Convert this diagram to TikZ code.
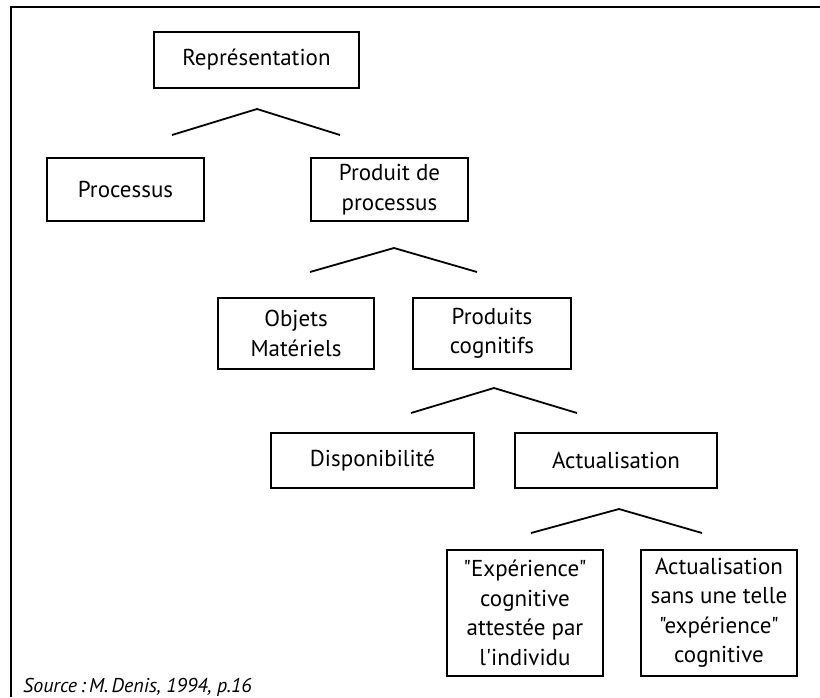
\documentclass[tikz,border=0pt]{standalone}
\usepackage{fontspec}
\setmainfont{PT Sans}[Ligatures=TeXOff]
\begin{document}
\begin{tikzpicture}[x=1pt,y=-1pt,
  box/.style={draw=black,line width=1.6pt,rectangle,inner sep=0pt,align=center,
    font=\fontsize{23}{29.5}\selectfont},
  conn/.style={draw=black,line width=1.8pt},
  frameline/.style={draw=black,line width=2.6pt}]
\useasboundingbox (0,0) rectangle (820,697);
\draw[frameline] (11,697) -- (11,7) -- (820,7);
% level 0
\node[box,minimum width=205pt,minimum height=56pt] (rep) at (256.5,60) {Représentation};
% level 1
\node[box,minimum width=157pt,minimum height=63pt] (proc) at (125.5,189.5) {Processus};
\node[box,minimum width=157pt,minimum height=63pt] (prod) at (389.5,189.5) {Produit de\\processus};
% level 2
\node[box,minimum width=156pt,minimum height=71pt] (obj) at (296,333.5) {Objets\\Matériels};
\node[box,minimum width=158pt,minimum height=71pt] (pcog) at (492,333.5) {Produits\\cognitifs};
% level 3
\node[box,minimum width=203pt,minimum height=55pt] (disp) at (372.5,460.5) {Disponibilité};
\node[box,minimum width=202pt,minimum height=55pt] (act) at (616,460.5) {Actualisation};
% level 4
\node[box,minimum width=156pt,minimum height=126pt] (exp) at (525,613) {"Expérience"\\cognitive\\attestée par\\l'individu};
\node[box,minimum width=156pt,minimum height=126pt] (asans) at (719,613) {Actualisation\\sans une telle\\"expérience"\\cognitive};
% connectors
\coordinate (c1l) at (172,135); \coordinate (c1p) at (257,109); \coordinate (c1r) at (340,135);
\coordinate (c2l) at (310,272); \coordinate (c2p) at (394,248); \coordinate (c2r) at (477,272);
\coordinate (c3l) at (411,413); \coordinate (c3p) at (494,388); \coordinate (c3r) at (577,413);
\coordinate (c4l) at (531,533); \coordinate (c4p) at (619,509); \coordinate (c4r) at (702,533);
\draw[conn] (c1l) -- (c1p) -- (c1r);
\draw[conn] (c2l) -- (c2p) -- (c2r);
\draw[conn] (c3l) -- (c3p) -- (c3r);
\draw[conn] (c4l) -- (c4p) -- (c4r);
% source
\node[anchor=base west,inner sep=0pt,font=\fontsize{20}{24}\selectfont\itshape] (src) at (23,692) {Source\,:\,M.\,Denis, 1994, p.16};
\end{tikzpicture}
\end{document}
